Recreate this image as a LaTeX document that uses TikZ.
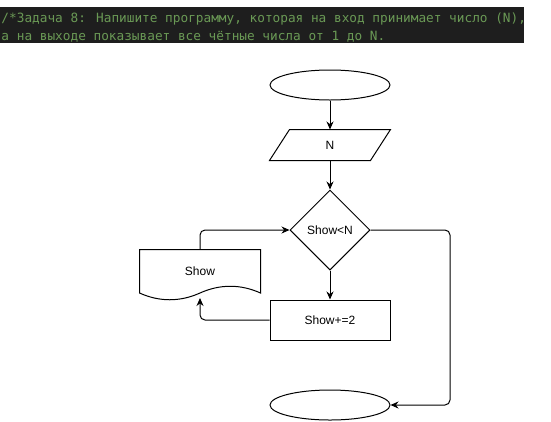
\documentclass[tikz,border=0pt]{standalone}
\usepackage{fontspec}
\setmainfont{Liberation Sans}
\newfontfamily\codefont{DejaVu Sans Mono}
\usetikzlibrary{shapes.geometric,arrows.meta}
\definecolor{codebg}{HTML}{1E1E1E}
\definecolor{codegreen}{HTML}{6A9955}
\begin{document}
\begin{tikzpicture}[x=1pt,y=-1pt,line width=1pt,
  font=\fontsize{12}{14}\selectfont,
  every node/.style={inner sep=0pt},
  term/.style={ellipse,draw,minimum width=120pt,minimum height=30pt},
  proc/.style={rectangle,draw,minimum width=120pt,minimum height=40pt},
  cond/.style={diamond,draw,minimum width=80pt,minimum height=80pt,aspect=1},
  flow/.style={-{Stealth[length=8pt,width=7pt]},rounded corners=5pt}]
\useasboundingbox (0,0) rectangle (551,421);
% comment banner
\fill[codebg] (0,7) rectangle (524,43);
\node[anchor=base west,text=codegreen,font=\codefont\fontsize{12.75}{15}\selectfont]
  (line1) at (1,22) {/*Задача 8: Напишите программу, которая на вход принимает число (N),};
\node[anchor=base west,text=codegreen,font=\codefont\fontsize{12.75}{15}\selectfont]
  (line2) at (1,40) {а на выходе показывает все чётные числа от 1 до N.};
% flowchart
\node[term] (start) at (330,85) {};
\node[minimum width=120pt,minimum height=30pt] (input) at (330,145) {N};
\draw ([xshift=20pt]input.north west) -- (input.north east)
  -- ([xshift=-20pt]input.south east) -- (input.south west) -- cycle;
\node[cond] (check) at (330,230) {Show<N};
\node[proc] (step2) at (330,320) {Show+=2};
\node[minimum width=120pt,minimum height=42.5pt] (show) at (200,271.25) {Show};
\draw (show.north west) -- (show.north east) -- (show.south east)
  .. controls +(-20,-9) and +(20,-9) .. (show.south)
  .. controls +(-20,9) and +(20,9) .. (show.south west) -- cycle;
\node[term] (stop) at (330,405) {};
\coordinate (bend) at (450,230);
\draw[flow] (start) -- (input);
\draw[flow] (input) -- (check);
\draw[flow] (check) -- (step2);
\draw[flow] (step2.west) -| ([yshift=-5pt]show.south);
\draw[flow] (show.north) |- (check.west);
\draw[flow] (check.east) -- (bend) |- (stop.east);
\end{tikzpicture}
\end{document}
